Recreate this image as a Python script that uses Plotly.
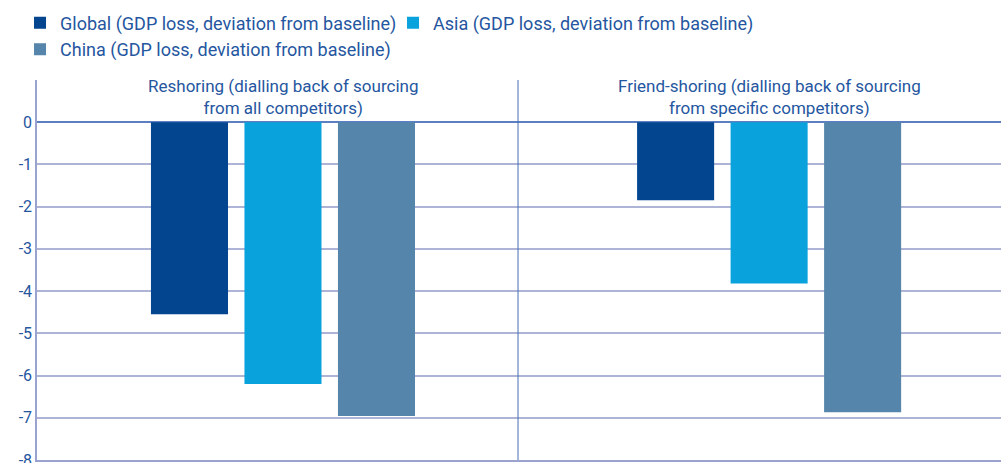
import plotly.graph_objects as go

categories = ["Reshoring (dialling back of sourcing<br>from all competitors)",
              "Friend-shoring (dialling back of sourcing<br>from specific competitors)"]
series_names = ["Global (GDP loss, deviation from baseline)",
                "Asia (GDP loss, deviation from baseline)",
                "China (GDP loss, deviation from baseline)"]
global_vals = [-4.55, -1.85]
asia_vals = [-6.2, -3.82]
china_vals = [-6.96, -6.87]
colors = ["#03468f", "#0aa2dc", "#5585aa"]
y_ticks = [0, -1, -2, -3, -4, -5, -6, -7, -8]

text_color = "#2556a0"
font_family = "Roboto, 'Noto Sans', Arial, sans-serif"

fig = go.Figure()
for name, vals, col in zip(series_names, [global_vals, asia_vals, china_vals], colors):
    fig.add_trace(go.Bar(x=list(range(len(categories))), y=vals, name=name,
                         marker=dict(color=col, line=dict(width=0))))

for i, cat in enumerate(categories):
    fig.add_annotation(x=i, y=0.6, xref="x", yref="y", text=cat, showarrow=False,
                       font=dict(size=17, color=text_color, family=font_family),
                       align="center", yanchor="middle")

fig.add_shape(type="line", xref="x", yref="paper", x0=0.4835, x1=0.4835, y0=0, y1=1,
              line=dict(color="#4a6fb5", width=1), layer="above")

fig.update_layout(
    width=1001, height=463,
    margin=dict(l=37, r=0, t=80, b=3),
    paper_bgcolor="white", plot_bgcolor="white",
    barmode="group", bargap=0.423, bargroupgap=0.176,
    font=dict(family=font_family, size=16, color=text_color),
    legend=dict(orientation="h", x=0.02, xref="container", xanchor="left",
                y=0.99, yref="container", yanchor="top",
                font=dict(size=18, color=text_color),
                traceorder="normal", itemwidth=30, tracegroupgap=0,
                entrywidth=328),
    showlegend=True,
)
fig.update_xaxes(range=[-0.506, 1.477], showticklabels=False, showgrid=False,
                 zeroline=False, showline=True, linecolor="#9aa3cf", linewidth=1.5,
                 ticks="", automargin=False)
fig.update_yaxes(range=[-8, 1], tickvals=y_ticks, ticktext=[str(v) for v in y_ticks],
                 showgrid=True, gridcolor="#aeb4d6", gridwidth=1.5,
                 zeroline=True, zerolinecolor="#5b7fc0", zerolinewidth=1.5,
                 showline=True, linecolor="#9aa3cf", linewidth=1.5,
                 tickfont=dict(size=16, color=text_color), ticks="",
                 ticklabeloverflow="allow", automargin=False)

fig.write_html("out.html", config={"displayModeBar": False},
               post_script="document.body.style.margin='0';document.body.style.overflow='hidden';")
